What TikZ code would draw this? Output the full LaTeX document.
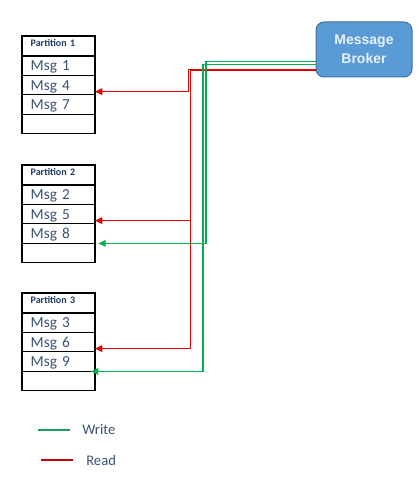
\documentclass[tikz,border=0pt]{standalone}
\usepackage{fontspec}
\setmainfont{Carlito}
\newfontfamily\brokerfont{Liberation Sans}
\usetikzlibrary{positioning,arrows.meta}

\definecolor{writegreen}{RGB}{0,176,80}
\definecolor{readred}{RGB}{228,0,0}
\definecolor{legendgreen}{RGB}{30,158,90}
\definecolor{legendred}{RGB}{192,0,0}
\definecolor{brokerfill}{RGB}{91,155,213}
\definecolor{brokerline}{RGB}{65,113,156}
\definecolor{brokertext}{RGB}{232,241,252}
\definecolor{headblue}{RGB}{31,56,100}
\definecolor{msgblue}{RGB}{59,82,115}

\tikzset{
  part/.style={draw, line width=0.8pt, outer sep=0pt, minimum width=54.75pt,
    text width=41.75pt, inner xsep=6.5pt, align=left, anchor=north west},
  parthead/.style={part, inner ysep=1pt, text height=7pt, text depth=6pt,
    font=\bfseries\fontsize{7.5}{9}\selectfont, text=headblue},
  msgrow/.style={part, inner ysep=0.5pt, text height=10.5pt, text depth=3.1pt,
    font=\fontsize{11.5}{13}\selectfont, text=msgblue},
  broker/.style={draw=brokerline, line width=0.75pt, fill=brokerfill, rounded corners=6pt,
    minimum width=72pt, minimum height=41.25pt, align=center, text=brokertext,
    font=\brokerfont\bfseries\fontsize{10.5}{14.25}\selectfont},
  readline/.style={color=readred, line width=0.8pt, -{Triangle[length=5.5pt,width=5pt]}},
  writeline/.style={color=writegreen, line width=0.8pt, -{Triangle[length=5.5pt,width=5pt]}},
  legendtext/.style={inner sep=0pt, anchor=west, text=msgblue, font=\fontsize{11}{13}\selectfont}
}

\begin{document}
\begin{tikzpicture}[x=0.75pt, y=-0.75pt]
\useasboundingbox (0,0) rectangle (419,478);

% partitions
\foreach \p/\y/\a/\b/\c in {1/36/1/4/7, 2/165/2/5/8, 3/293/3/6/9} {
  \node[parthead] (part\p head) at (22,\y) {Partition \p};
  \node[msgrow, below=0pt of part\p head] (part\p msg1) {Msg \a};
  \node[msgrow, below=0pt of part\p msg1] (part\p msg2) {Msg \b};
  \node[msgrow, below=0pt of part\p msg2] (part\p msg3) {Msg \c};
  \node[msgrow, below=0pt of part\p msg3] (part\p msg4) {};
}

% broker
\node[broker] (broker) at (364,49.5) {Message\\Broker};

\coordinate (readA) at ([yshift=-15pt]broker.west);
\coordinate (readB) at ([yshift=-16.1pt]broker.west);
\coordinate (writeA) at ([yshift=-9.2pt]broker.west);
\coordinate (writeB) at ([yshift=-11pt]broker.west);
\coordinate (redx1) at (188.5,0);
\coordinate (redx2) at (190.5,0);
\coordinate (greenx1) at (206,0);
\coordinate (greenx2) at (203,0);

% reads
\draw[readline] (readA) -- (readA -| redx1) |- ([yshift=2.5pt]part1msg2.south east);
\draw[readline] (readB) -- (readB -| redx2) |- ([yshift=2.5pt]part2msg2.south east);
\draw[readline] (readB) -- (readB -| redx2) |- ([yshift=2.5pt]part3msg2.south east);

% writes
\draw[writeline] (writeA) -- (writeA -| greenx1) |- ([xshift=2.5pt]part2msg3.south east);
\draw[writeline] (writeB) -- (writeB -| greenx2) |- ([xshift=-3pt]part3msg3.south east);

% legend
\coordinate (writekeyA) at (38,430);
\coordinate (writekeyB) at (70,430);
\coordinate (readkeyA) at (41,460);
\coordinate (readkeyB) at (73,460);
\node[legendtext] (writelabel) at (82,430) {Write};
\node[legendtext] (readlabel) at (86,460) {Read};
\draw[legendgreen, line width=1pt] (writekeyA) -- (writekeyB);
\draw[legendred, line width=1pt] (readkeyA) -- (readkeyB);
\end{tikzpicture}
\end{document}
